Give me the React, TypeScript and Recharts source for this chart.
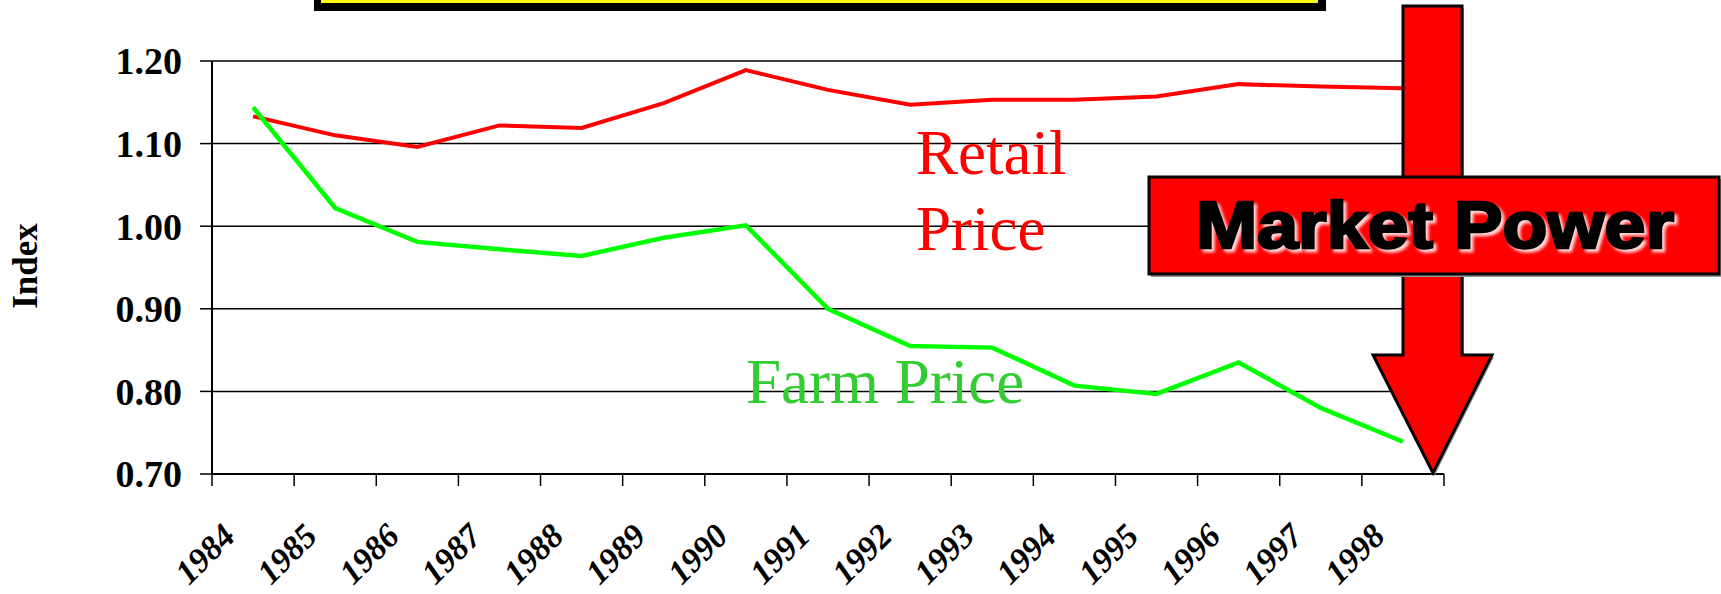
import { LineChart, Line, XAxis, YAxis, CartesianGrid } from "recharts"

const years = ["1984", "1985", "1986", "1987", "1988", "1989", "1990", "1991", "1992", "1993", "1994", "1995", "1996", "1997", "1998"]
const retail = [1.133, 1.11, 1.096, 1.122, 1.119, 1.149, 1.189, 1.165, 1.147, 1.153, 1.153, 1.157, 1.172, 1.169, 1.167]
const farm = [1.144, 1.022, 0.981, 0.972, 0.964, 0.986, 1.001, 0.9, 0.855, 0.853, 0.807, 0.797, 0.835, 0.78, 0.739]
const yTicks = [0.7, 0.8, 0.9, 1.0, 1.1, 1.2]
const xTicks = Array.from({ length: years.length + 1 }, (_, i) => i)

const data = years.map((year, i) => ({ x: i + 0.5, year, retail: retail[i], farm: farm[i] }))

const serif = "'Liberation Serif', 'Times New Roman', serif"
const sans = "'Liberation Sans', Arial, sans-serif"

const YearTick = (props: any) => {
  const { x, y, payload } = props
  if (payload.value >= years.length) return <g />
  return (
    <text
      transform={`translate(${x + 25}, ${y + 50}) rotate(-45)`}
      textAnchor="end"
      fontFamily={serif}
      fontWeight="bold"
      fontStyle="italic"
      fontSize={34}
      fill="#000"
    >
      {years[payload.value]}
    </text>
  )
}

export default function App() {
  return (
    <div style={{ position: "absolute", left: 0, top: 0, width: 1721, height: 594, background: "#fff" }}>
      <LineChart width={1721} height={594} data={data} margin={{ top: 61, right: 277, left: 0, bottom: 0 }}>
        <CartesianGrid vertical={false} stroke="#000" strokeWidth={1.5} />
        <XAxis
          type="number"
          dataKey="x"
          domain={[0, years.length]}
          ticks={xTicks}
          interval={0}
          height={120}
          tickSize={12}
          axisLine={{ stroke: "#000", strokeWidth: 2 }}
          tickLine={{ stroke: "#000", strokeWidth: 1.5 }}
          tick={<YearTick />}
        />
        <YAxis
          type="number"
          domain={[0.7, 1.2]}
          ticks={yTicks}
          width={212}
          tickSize={12}
          tickMargin={18}
          tickFormatter={(v: number) => v.toFixed(2)}
          axisLine={{ stroke: "#000", strokeWidth: 2 }}
          tickLine={{ stroke: "#000", strokeWidth: 1.5 }}
          tick={{ fontFamily: serif, fontWeight: "bold", fontSize: 38, fill: "#000" }}
        />
        <Line type="linear" dataKey="retail" stroke="#ff0000" strokeWidth={4} dot={false} isAnimationActive={false} />
        <Line type="linear" dataKey="farm" stroke="#00ff00" strokeWidth={4.5} dot={false} isAnimationActive={false} />
      </LineChart>

      <svg width={1721} height={594} style={{ position: "absolute", left: 0, top: 0, pointerEvents: "none" }}>
        <defs>
          <filter id="glow" x="-5%" y="-20%" width="110%" height="140%">
            <feGaussianBlur stdDeviation="1.5" />
          </filter>
        </defs>

        {/* title box, cut off at the top */}
        <rect x={314} y={-20} width={1012} height={31} fill="#000" />
        <rect x={321} y={-20} width={997} height={23} fill="#ffff00" />

        <text transform="translate(37, 266) rotate(-90)" textAnchor="middle" fontFamily={serif} fontWeight="bold" fontSize={35} fill="#000">
          Index
        </text>

        <text x={916} y={174} fontFamily={serif} fontSize={63} fill="#ff0000">Retail</text>
        <text x={916} y={250} fontFamily={serif} fontSize={63} fill="#ff0000">Price</text>
        <text x={746} y={403} fontFamily={serif} fontSize={63} fill="#33cc33">Farm Price</text>

        {/* arrow */}
        <polygon
          points="1405,8 1464,8 1464,357 1494,357 1435,475 1375,357 1405,357"
          fill="#999"
        />
        <polygon
          points="1403,6 1462,6 1462,355 1492,355 1433,473 1373,355 1403,355"
          fill="#ff0000"
          stroke="#000"
          strokeWidth={3}
          strokeLinejoin="miter"
        />

        {/* market power box */}
        <rect x={1151} y={179} width={571} height={98} fill="#999" />
        <rect x={1149} y={177} width={570} height={97} fill="#ff0000" stroke="#000" strokeWidth={3} />
        <text x={1199} y={251} fontFamily={sans} fontWeight="900" fontSize={66} fill="#ffd6d6" stroke="#ffd6d6" strokeWidth={2.5} textLength={478} lengthAdjust="spacingAndGlyphs" filter="url(#glow)">
          Market Power
        </text>
        <text x={1196} y={248} fontFamily={sans} fontWeight="900" fontSize={66} fill="#000" stroke="#000" strokeWidth={2.5} textLength={478} lengthAdjust="spacingAndGlyphs">
          Market Power
        </text>
      </svg>
    </div>
  )
}
